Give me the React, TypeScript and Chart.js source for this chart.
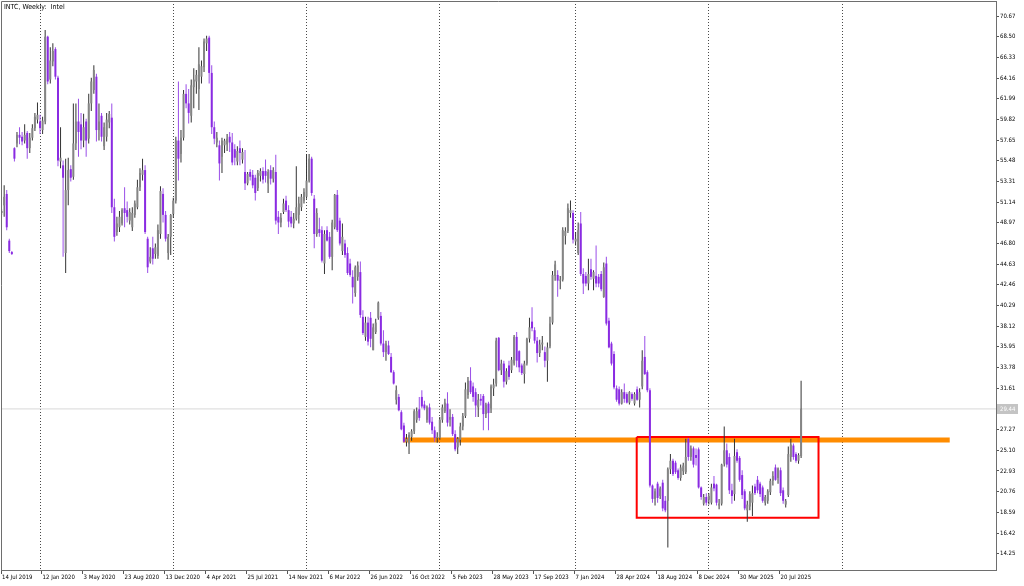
import React, { useEffect, useRef } from 'react';
import { Chart, registerables } from 'chart.js';

Chart.register(...registerables);

const TITLE = 'INTC, Weekly:  Intel';

// weekly candles, first bar = week of 22 Sep 2019, last = week of 14 Sep 2025
const opens = [
  50.0, 50.8, 52.0, 47.1, 45.9, 56.8, 57.3, 58.2, 58.0, 57.6,
  58.4, 56.8, 57.9, 58.9, 59.8, 59.6, 58.7, 59.6, 68.5, 64.0,
  65.9, 67.2, 64.2, 55.4, 55.0, 45.8, 52.4, 54.6, 53.8, 57.3,
  59.6, 59.3, 57.6, 59.6, 57.8, 61.5, 62.9, 64.3, 58.7, 60.2,
  57.0, 58.0, 59.5, 60.0, 50.6, 48.0, 48.5, 48.9, 50.5, 50.3,
  49.2, 48.5, 49.8, 50.6, 52.7, 54.0, 54.5, 47.3, 44.9, 46.3,
  45.7, 45.5, 47.8, 52.0, 49.8, 45.8, 47.5, 49.9, 51.3, 57.6,
  56.2, 57.9, 62.5, 61.5, 60.2, 63.2, 63.8, 63.0, 64.3, 65.3,
  67.8, 68.4, 64.7, 59.0, 57.4, 57.1, 55.9, 57.1, 57.2, 58.0,
  57.4, 56.7, 55.4, 56.8, 55.6, 54.3, 53.1, 54.3, 54.0, 53.7,
  52.6, 53.9, 54.4, 54.4, 53.1, 54.5, 53.6, 54.3, 49.6, 49.0,
  50.1, 51.3, 50.3, 49.6, 48.9, 49.4, 49.8, 50.6, 51.3, 51.7,
  53.4, 55.7, 51.5, 47.8, 48.3, 48.2, 44.7, 48.2, 47.5, 45.4,
  48.5, 51.9, 49.2, 46.0, 46.8, 45.8, 44.7, 43.3, 41.6, 43.3,
  43.8, 39.1, 37.0, 38.5, 39.0, 35.6, 37.5, 39.0, 39.2, 36.3,
  35.4, 36.1, 34.9, 33.3, 30.4, 30.7, 29.1, 27.7, 26.0, 25.8,
  26.5, 27.1, 28.3, 29.4, 30.7, 29.9, 28.3, 29.6, 28.1, 27.2,
  26.4, 26.4, 28.3, 29.2, 30.0, 28.3, 28.6, 26.8, 25.4, 26.2,
  27.6, 28.7, 30.9, 32.4, 31.8, 31.2, 29.6, 30.5, 30.8, 28.9,
  30.0, 29.5, 31.6, 32.1, 36.9, 33.5, 34.2, 32.3, 34.0, 33.5,
  34.2, 37.0, 35.5, 34.0, 33.1, 34.2, 36.8, 38.6, 37.7, 36.6,
  35.3, 36.2, 35.4, 34.5, 36.0, 38.5, 43.4, 43.5, 42.9, 43.0,
  47.6, 48.1, 50.0, 50.0, 47.0, 45.8, 48.9, 43.6, 43.4, 42.6,
  44.1, 43.1, 43.4, 43.3, 43.6, 41.2, 44.7, 38.7, 36.3, 35.2,
  31.6, 31.5, 30.0, 31.2, 31.0, 30.1, 31.0, 30.0, 31.5, 30.4,
  31.8, 34.9, 33.3, 31.4, 21.4, 20.0, 21.6, 20.3, 21.7, 19.8,
  19.8, 23.1, 24.0, 23.8, 23.0, 22.2, 22.9, 22.8, 26.3, 24.4,
  25.3, 24.6, 25.2, 21.2, 19.5, 20.2, 19.9, 19.6, 21.6, 21.5,
  19.3, 19.5, 23.7, 25.1, 24.4, 20.9, 20.5, 24.9, 24.3, 22.5,
  20.8, 18.8, 19.2, 19.6, 21.3, 22.0, 21.6, 21.2, 19.6, 19.8,
  20.7, 21.9, 23.3, 22.2, 23.0, 20.9, 19.4, 20.4, 24.4, 25.6,
  24.7, 24.0, 24.5,
];

const highs = [
  50.4, 52.9, 52.4, 47.3, 46.0, 56.9, 58.5, 59.0, 58.5, 59.3,
  58.6, 58.4, 59.3, 60.5, 61.6, 60.3, 60.1, 69.2, 68.6, 67.4,
  67.8, 67.4, 64.4, 59.0, 55.5, 55.7, 55.8, 55.0, 61.5, 61.5,
  62.0, 60.5, 60.4, 59.9, 62.5, 64.2, 65.5, 64.6, 61.5, 60.5,
  59.5, 60.5, 60.7, 61.5, 51.5, 49.6, 50.2, 50.5, 52.7, 51.2,
  50.5, 50.6, 51.3, 53.5, 54.7, 55.7, 55.0, 47.5, 46.4, 47.5,
  46.8, 48.8, 52.8, 52.6, 50.2, 47.8, 49.9, 51.6, 58.0, 63.8,
  58.7, 62.9, 63.5, 63.0, 64.0, 65.2, 65.0, 67.4, 66.0, 68.3,
  68.6, 68.6, 65.5, 59.6, 58.5, 57.6, 57.9, 57.8, 58.3, 58.5,
  58.4, 57.2, 57.0, 57.6, 56.8, 56.6, 54.3, 54.6, 54.5, 54.0,
  54.5, 54.7, 54.8, 55.6, 54.6, 55.0, 54.8, 56.1, 50.2, 50.0,
  51.5, 51.8, 50.8, 50.2, 50.0, 54.9, 51.7, 52.0, 52.6, 56.2,
  56.2, 55.9, 51.9, 50.5, 49.5, 48.6, 48.2, 48.6, 48.0, 49.3,
  52.0, 52.4, 49.5, 48.9, 47.2, 46.4, 45.2, 44.0, 44.5, 44.9,
  44.9, 39.8, 39.1, 39.1, 39.6, 38.4, 38.9, 40.7, 39.6, 37.7,
  36.6, 36.6, 35.3, 33.5, 31.9, 31.0, 29.3, 28.0, 26.8, 27.0,
  27.3, 29.4, 29.6, 30.7, 31.4, 30.3, 29.8, 30.0, 28.6, 27.6,
  27.0, 28.6, 29.9, 30.5, 31.2, 29.4, 28.9, 27.2, 26.5, 28.0,
  29.0, 32.2, 32.8, 33.8, 32.2, 31.6, 31.0, 31.0, 31.0, 30.1,
  30.2, 32.0, 32.6, 36.9, 37.0, 34.6, 34.5, 33.7, 34.5, 34.9,
  37.2, 37.5, 35.6, 34.2, 34.5, 36.9, 39.0, 40.1, 38.0, 37.0,
  36.7, 37.1, 36.0, 36.4, 39.1, 43.9, 45.0, 44.0, 43.4, 48.5,
  48.5, 51.0, 51.3, 50.3, 48.0, 49.0, 50.1, 44.2, 43.8, 45.2,
  45.2, 44.0, 46.6, 43.6, 43.9, 44.8, 45.4, 39.0, 36.5, 35.5,
  31.9, 31.8, 31.5, 32.1, 31.2, 31.3, 31.2, 31.2, 31.8, 31.6,
  35.6, 37.1, 33.5, 31.6, 21.5, 21.1, 21.8, 21.3, 22.0, 20.3,
  23.3, 24.7, 24.2, 24.0, 23.2, 23.6, 23.8, 26.3, 26.4, 25.6,
  25.5, 25.3, 25.4, 21.3, 20.5, 20.6, 20.6, 21.6, 22.4, 21.6,
  20.0, 23.7, 27.6, 25.8, 24.8, 21.6, 26.3, 25.2, 24.5, 23.0,
  21.0, 19.8, 20.8, 21.4, 21.6, 22.4, 21.8, 21.4, 20.4, 21.0,
  22.1, 22.9, 23.6, 23.3, 23.3, 21.2, 20.0, 25.5, 26.3, 25.8,
  24.9, 24.8, 32.4,
];

const lows = [
  49.8, 49.6, 48.2, 45.8, 45.6, 55.4, 56.9, 57.2, 57.1, 57.3,
  55.7, 56.3, 57.6, 58.6, 59.4, 58.3, 58.3, 59.3, 63.5, 63.6,
  65.4, 64.0, 54.9, 54.7, 45.4, 43.7, 50.8, 53.3, 53.5, 56.6,
  55.9, 56.7, 56.9, 55.9, 57.3, 60.7, 62.5, 57.5, 57.6, 57.5,
  56.6, 57.5, 58.9, 50.0, 47.0, 47.6, 48.0, 48.7, 48.5, 49.0,
  48.8, 48.1, 49.5, 50.4, 52.3, 53.4, 47.8, 43.7, 44.7, 44.6,
  45.2, 45.2, 47.3, 49.0, 47.0, 45.1, 45.6, 49.5, 51.0, 53.4,
  55.3, 57.6, 61.0, 59.4, 59.5, 61.0, 62.5, 60.8, 63.6, 64.8,
  67.0, 63.6, 58.3, 57.2, 56.9, 53.4, 54.2, 56.3, 56.5, 56.4,
  55.0, 55.0, 55.0, 55.0, 55.2, 52.4, 52.9, 53.4, 52.6, 51.3,
  52.3, 53.3, 53.1, 53.2, 52.1, 53.0, 53.2, 48.8, 47.8, 48.5,
  49.9, 50.1, 48.5, 48.5, 48.4, 49.2, 48.9, 50.2, 51.0, 51.5,
  53.2, 51.8, 46.3, 47.5, 47.5, 44.8, 43.6, 47.0, 45.2, 44.0,
  48.3, 48.0, 46.6, 45.6, 45.3, 43.5, 43.3, 40.5, 41.2, 42.9,
  39.0, 37.2, 36.6, 36.1, 35.9, 35.6, 37.3, 38.8, 36.1, 34.9,
  34.5, 35.1, 33.2, 32.0, 29.9, 29.2, 27.2, 25.9, 25.5, 24.7,
  26.1, 26.8, 28.0, 28.2, 29.5, 29.3, 28.0, 27.8, 26.8, 26.0,
  25.9, 26.2, 28.0, 29.0, 27.6, 27.6, 26.6, 25.0, 24.7, 25.6,
  27.2, 28.5, 30.5, 31.0, 30.2, 28.6, 28.6, 29.8, 27.2, 28.5,
  27.2, 29.0, 30.8, 31.8, 33.4, 33.0, 31.7, 32.0, 32.5, 33.2,
  34.0, 33.8, 33.3, 33.0, 32.1, 34.0, 36.4, 37.6, 36.3, 34.3,
  34.9, 35.6, 33.8, 32.3, 35.8, 38.3, 42.9, 41.2, 42.0, 42.8,
  46.7, 47.9, 49.5, 46.8, 46.6, 45.6, 43.4, 41.5, 42.3, 41.9,
  43.0, 41.9, 42.2, 42.2, 41.8, 41.1, 38.2, 35.8, 34.0, 31.5,
  30.2, 29.8, 29.9, 30.1, 30.0, 29.9, 30.3, 29.8, 30.3, 29.6,
  31.5, 33.0, 31.2, 21.2, 19.6, 19.3, 19.6, 20.0, 18.7, 18.6,
  14.9, 22.6, 22.4, 22.6, 22.0, 21.9, 22.5, 22.6, 24.0, 24.0,
  23.3, 23.5, 21.1, 19.9, 19.3, 19.3, 19.4, 19.4, 20.8, 19.3,
  18.9, 19.3, 23.4, 23.3, 20.5, 19.5, 19.8, 23.8, 21.8, 20.0,
  18.8, 17.6, 18.8, 18.2, 20.4, 20.6, 20.2, 19.6, 19.3, 19.5,
  20.4, 21.4, 21.9, 21.6, 20.3, 19.5, 19.1, 20.2, 23.9, 24.1,
  23.8, 23.7, 24.3,
];

const closes = [
  50.2, 51.7, 48.5, 46.0, 45.7, 55.7, 58.2, 57.9, 57.5, 58.2,
  56.8, 57.9, 58.9, 60.1, 60.3, 58.9, 59.7, 68.5, 63.8, 66.0,
  67.0, 64.3, 55.5, 55.8, 53.7, 52.4, 54.5, 53.7, 57.3, 59.6,
  58.5, 57.6, 59.0, 57.6, 61.5, 63.8, 65.0, 58.7, 59.6, 58.0,
  59.0, 59.8, 60.4, 50.6, 47.5, 48.9, 49.6, 50.3, 50.0, 49.6,
  50.1, 50.0, 51.0, 52.7, 54.2, 54.5, 48.0, 44.3, 45.4, 45.2,
  46.4, 48.2, 52.3, 49.8, 47.3, 47.5, 49.8, 51.3, 57.6, 55.7,
  57.9, 62.5, 61.5, 60.5, 63.4, 64.0, 64.5, 65.6, 65.4, 68.0,
  68.3, 64.7, 59.0, 57.8, 57.9, 55.2, 57.6, 57.6, 57.8, 57.4,
  55.3, 55.8, 56.5, 56.3, 56.4, 53.1, 54.1, 53.8, 52.9, 52.1,
  54.2, 54.4, 53.5, 53.9, 54.3, 53.6, 54.5, 49.2, 49.0, 49.5,
  51.0, 50.3, 49.1, 48.9, 49.4, 50.6, 51.0, 51.7, 52.2, 53.4,
  55.7, 52.1, 47.8, 50.0, 47.9, 45.0, 47.8, 47.1, 45.4, 49.0,
  51.9, 48.2, 46.8, 47.5, 45.6, 43.7, 43.5, 42.2, 44.3, 44.5,
  39.3, 37.4, 38.5, 36.5, 36.8, 38.0, 38.5, 40.6, 36.3, 35.4,
  36.3, 35.2, 33.3, 32.1, 31.4, 29.3, 27.3, 26.0, 26.3, 26.7,
  27.1, 29.2, 29.2, 28.5, 29.7, 29.5, 29.6, 28.0, 27.2, 26.4,
  26.5, 28.3, 29.6, 30.1, 28.0, 28.6, 26.8, 25.2, 26.3, 27.6,
  28.7, 31.5, 32.4, 31.2, 30.7, 29.8, 30.4, 30.3, 28.9, 29.9,
  29.0, 31.8, 32.0, 36.6, 33.5, 34.2, 32.3, 33.4, 32.8, 34.6,
  37.0, 34.5, 33.8, 33.2, 34.2, 36.8, 38.0, 37.9, 36.6, 35.3,
  36.2, 36.4, 34.5, 35.9, 38.4, 43.5, 44.6, 42.9, 43.0, 48.2,
  48.1, 50.5, 50.3, 47.2, 47.3, 48.2, 43.6, 42.6, 42.6, 43.6,
  43.3, 43.8, 42.6, 42.6, 42.0, 44.3, 38.4, 35.9, 34.2, 31.7,
  30.4, 30.0, 31.2, 30.5, 30.1, 31.2, 30.5, 31.0, 30.4, 31.2,
  34.5, 33.1, 31.4, 21.4, 20.0, 20.8, 20.1, 21.1, 19.0, 18.8,
  23.1, 24.0, 22.6, 22.8, 22.2, 23.3, 23.5, 24.4, 24.4, 25.3,
  23.6, 24.3, 21.2, 20.2, 20.2, 19.6, 20.3, 21.2, 21.1, 19.6,
  19.5, 23.6, 25.1, 23.6, 20.9, 20.3, 24.5, 24.0, 22.0, 20.4,
  19.0, 19.4, 20.5, 20.6, 20.6, 20.9, 20.5, 19.8, 20.2, 20.8,
  21.9, 22.4, 22.0, 23.2, 20.6, 19.8, 19.8, 24.7, 25.7, 24.4,
  24.0, 24.6, 29.44,
];

const priceTicks = [
  70.67, 68.5, 66.33, 64.16, 61.99, 59.82, 57.65, 55.48, 53.31, 51.14,
  48.97, 46.8, 44.63, 42.46, 40.29, 38.12, 35.95, 33.78, 31.61,
  27.27, 25.1, 22.93, 20.76, 18.59, 16.42, 14.25,
];
const lastPrice = 29.44;

const dateLabels = [
  '14 Jul 2019', '12 Jan 2020', '3 May 2020', '23 Aug 2020', '13 Dec 2020',
  '4 Apr 2021', '25 Jul 2021', '14 Nov 2021', '6 Mar 2022', '26 Jun 2022',
  '16 Oct 2022', '5 Feb 2023', '28 May 2023', '17 Sep 2023', '7 Jan 2024',
  '28 Apr 2024', '18 Aug 2024', '8 Dec 2024', '30 Mar 2025', '20 Jul 2025',
];
const dateLabelBars = [0, 16, 32, 48, 64, 80, 96, 112, 128, 144, 160, 176, 192, 208, 224, 240, 256, 272, 288, 304];
const yearStartBars = [15, 67, 119, 171, 224, 276, 328];

const supportLevel = 26.17;
const supportFromBar = 156.6;
const supportToBar = 370.0;

const boxFromBar = 247.85;
const boxToBar = 318.8;
const boxTop = 26.49;
const boxBottom = 18.03;

const X_MIN = -0.234;
const X_MAX = 388.06;
const Y_MIN = 12.538;
const Y_MAX = 72.244;

const FONT = '"Liberation Sans Narrow", "DejaVu Sans Condensed", "Liberation Sans", Arial, sans-serif';
const BULL_BODY = '#858585';
const BULL_WICK = '#333333';
const BEAR_BODY = '#8a2be2';
const BEAR_WICK = '#9a4ee8';

export default function App() {
  const canvasRef = useRef<HTMLCanvasElement | null>(null);

  useEffect(() => {
    const canvas = canvasRef.current;
    if (!canvas) return;
    const isBull = (i: number) => closes[i] >= opens[i];

    const wickData = opens.map((_, i) => ({ x: i, y: [lows[i], highs[i]] }));
    const bodyData = opens.map((o, i) => ({ x: i, y: [o, closes[i]] }));

    const overlayPlugin = {
      id: 'mtOverlay',
      afterDraw(chart: any) {
        const { ctx, chartArea } = chart;
        const y = chart.scales.y.getPixelForValue(lastPrice);
        ctx.save();
        ctx.strokeStyle = '#6e6e6e';
        ctx.lineWidth = 1;
        ctx.beginPath();
        ctx.moveTo(Math.round(chartArea.left) + 0.5, Math.round(chartArea.bottom));
        ctx.lineTo(Math.round(chartArea.left) + 0.5, Math.round(chartArea.top) + 0.5);
        ctx.lineTo(Math.round(chartArea.right), Math.round(chartArea.top) + 0.5);
        ctx.stroke();
        ctx.fillStyle = '#c4c4c4';
        ctx.fillRect(chartArea.right + 1, Math.round(y) - 5, 21, 10);
        ctx.fillStyle = '#ffffff';
        ctx.font = '6px ' + FONT;
        ctx.textBaseline = 'middle';
        ctx.textAlign = 'left';
        ctx.fillText(lastPrice.toFixed(2), chartArea.right + 4, Math.round(y));
        ctx.fillStyle = '#000000';
        ctx.font = '7px ' + FONT;
        ctx.fillText(TITLE, 4, 7);
        ctx.restore();
      },
    };

    const chart = new Chart(canvas, {
      type: 'bar',
      data: {
        datasets: [
          {
            type: 'bar',
            label: 'body',
            data: bodyData as any,
            backgroundColor: (c: any) => (isBull(c.dataIndex) ? BULL_BODY : BEAR_BODY),
            barThickness: 2,
            minBarLength: 1,
            grouped: false,
            inflateAmount: 0,
            borderWidth: 0,
            order: 0,
          } as any,
          {
            type: 'bar',
            label: 'wick',
            data: wickData as any,
            backgroundColor: (c: any) => (isBull(c.dataIndex) ? BULL_WICK : BEAR_WICK),
            barThickness: 1,
            grouped: false,
            inflateAmount: 0,
            borderWidth: 0,
            order: 1,
          } as any,
          {
            type: 'line',
            label: 'box',
            data: [
              { x: boxFromBar, y: boxTop },
              { x: boxToBar, y: boxTop },
              { x: boxToBar, y: boxBottom },
              { x: boxFromBar, y: boxBottom },
              { x: boxFromBar, y: boxTop },
            ],
            borderColor: '#ff0000',
            borderWidth: 2,
            pointRadius: 0,
            fill: false,
            tension: 0,
            borderJoinStyle: 'miter',
            order: 2,
          } as any,
          {
            type: 'line',
            label: 'support',
            data: [
              { x: supportFromBar, y: supportLevel },
              { x: supportToBar, y: supportLevel },
            ],
            borderColor: '#ff8c00',
            borderWidth: 5,
            pointRadius: 0,
            fill: false,
            order: 3,
          } as any,
          {
            type: 'line',
            label: 'last',
            data: [
              { x: X_MIN, y: lastPrice },
              { x: X_MAX, y: lastPrice },
            ],
            borderColor: '#d8d8d8',
            borderWidth: 1,
            pointRadius: 0,
            fill: false,
            order: 4,
          } as any,
        ],
      },
      options: {
        responsive: false,
        maintainAspectRatio: false,
        animation: false,
        devicePixelRatio: 1,
        layout: { padding: { left: 1, top: 1, right: 0, bottom: 0 } },
        plugins: { legend: { display: false }, tooltip: { enabled: false }, title: { display: false } },
        scales: {
          x: {
            type: 'linear',
            position: 'bottom',
            offset: false,
            min: X_MIN,
            max: X_MAX,
            afterBuildTicks: (s: any) => {
              s.ticks = dateLabelBars.map((b, k) => ({ value: k === 0 ? X_MIN : b - 0.4 }));
            },
            afterFit: (s: any) => {
              s.height = 16;
              s.paddingLeft = 0;
              s.paddingRight = 0;
            },
            grid: { offset: false, drawOnChartArea: false, drawTicks: true, tickLength: 4, tickColor: '#555555', color: '#555555' },
            border: { display: true, color: '#6e6e6e' },
            ticks: {
              autoSkip: false,
              maxRotation: 0,
              minRotation: 0,
              align: 'start',
              padding: 0,
              labelOffset: 1,
              color: '#000000',
              font: { family: FONT, size: 6 },
              callback: (_v: any, idx: number) => dateLabels[idx] ?? '',
            },
          } as any,
          xSep: {
            type: 'linear',
            position: 'bottom',
            offset: false,
            min: X_MIN,
            max: X_MAX,
            afterBuildTicks: (s: any) => {
              s.ticks = yearStartBars.map((b) => ({ value: b }));
            },
            afterFit: (s: any) => {
              s.height = 0;
              s.paddingLeft = 0;
              s.paddingRight = 0;
            },
            grid: { offset: false, drawOnChartArea: true, drawTicks: false, color: '#4a4a4a', lineWidth: 1 },
            border: { display: false, dash: [1, 2] },
            ticks: { display: false },
          } as any,
          y: {
            type: 'linear',
            position: 'right',
            min: Y_MIN,
            max: Y_MAX,
            afterBuildTicks: (s: any) => {
              s.ticks = priceTicks.map((v) => ({ value: v }));
            },
            afterFit: (s: any) => {
              s.width = 28;
              s.paddingTop = 0;
              s.paddingBottom = 0;
            },
            grid: { drawOnChartArea: false, drawTicks: true, tickLength: 3, tickColor: '#555555' },
            border: { display: true, color: '#6e6e6e' },
            ticks: {
              padding: 1,
              color: '#000000',
              font: { family: FONT, size: 6 },
              callback: (v: any) => Number(v).toFixed(2),
            },
          } as any,
        },
      } as any,
      plugins: [overlayPlugin],
    });

    return () => chart.destroy();
  }, []);

  return (
    <div style={{ position: 'absolute', left: 0, top: 0, width: 1024, height: 586, background: '#ffffff' }}>
      <canvas ref={canvasRef} width={1024} height={586} style={{ display: 'block' }} />
    </div>
  );
}
